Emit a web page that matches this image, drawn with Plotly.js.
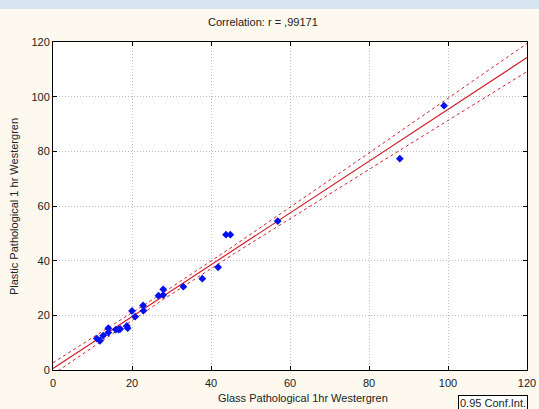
<!DOCTYPE html>
<html><head><meta charset="utf-8">
<script src="https://cdn.plot.ly/plotly-3.0.1.min.js"></script>
<style>html,body{margin:0;padding:0;background:#fdf9ef;}#c{width:539px;height:409px;}</style>
</head><body><div id="c"></div>
<script>
var glass   = [11.1, 11.9, 12.7, 14.0, 14.0, 15.9, 16.6, 17.0, 18.7, 18.9, 20.0, 20.8, 22.8, 22.9, 26.7, 27.9, 27.9, 33.0, 37.8, 41.8, 43.8, 44.9, 56.9, 87.8, 99.0];
var plastic = [11.5, 10.7, 12.6, 15.3, 13.7, 14.8, 14.8, 15.0, 16.1, 15.3, 21.6, 19.5, 23.6, 21.7, 27.2, 29.5, 27.4, 30.5, 33.4, 37.6, 49.5, 49.5, 54.5, 77.3, 96.7];
var tickVals = [0, 20, 40, 60, 80, 100, 120];
var titleText = "Correlation: r = ,99171";
var xTitle = "Glass Pathological 1hr Westergren";
var yTitle = "Plastic Pathological 1 hr Westergren";
var legendText = "0.95 Conf.Int.";

// regression + 95% confidence band computed from the data
var n = glass.length;
var mx = glass.reduce((a,b)=>a+b,0)/n, my = plastic.reduce((a,b)=>a+b,0)/n;
var sxx=0, sxy=0;
for (var i=0;i<n;i++){ sxx += (glass[i]-mx)*(glass[i]-mx); sxy += (glass[i]-mx)*(plastic[i]-my); }
var b = sxy/sxx, a = my - b*mx;
var sse=0; for (var i=0;i<n;i++){ var r = plastic[i]-(a+b*glass[i]); sse += r*r; }
var s = Math.sqrt(sse/(n-2)), t = 2.069;
var lx=[], ly=[], lo=[], hi=[];
for (var k=0;k<=120;k+=1){ var yh=a+b*k; var se=s*Math.sqrt(1/n+(k-mx)*(k-mx)/sxx); lx.push(k); ly.push(yh); lo.push(yh-t*se); hi.push(yh+t*se); }

var red = '#d0202a';
var traces = [
 {x:lx,y:hi,mode:'lines',line:{color:red,width:1,dash:'3px,3px'},hoverinfo:'skip'},
 {x:lx,y:lo,mode:'lines',line:{color:red,width:1,dash:'3px,3px'},hoverinfo:'skip'},
 {x:lx,y:ly,mode:'lines',line:{color:red,width:1.2},hoverinfo:'skip'},
 {x:glass,y:plastic,mode:'markers',marker:{symbol:'diamond',size:6,color:'#0010f0'}}
];
var ax = {range:[0,120],tickvals:tickVals,ticks:'inside',ticklen:4,tickcolor:'#000',mirror:'ticks',showline:true,linecolor:'#000',linewidth:1,
  showgrid:true,gridcolor:'#bdbdbd',griddash:'1px,2px',gridwidth:1,zeroline:false,tickfont:{family:'Liberation Sans, Arial',size:11,color:'#222'},fixedrange:true};
var layout = {
 width:539,height:409,margin:{l:53,r:12,t:42,b:39},
 paper_bgcolor:'#fdf9ef',plot_bgcolor:'#ffffff',showlegend:false,
 xaxis:Object.assign({},ax,{ticklabelstandoff:3}),
 yaxis:Object.assign({},ax),
 shapes:[{type:'rect',xref:'paper',yref:'paper',x0:-0.2,x1:1.1,y0:(370-9)/328,y1:1.2,fillcolor:'#d8e3f1',line:{width:0},layer:'below'}],
 annotations:[
  {text:titleText,xref:'paper',yref:'paper',x:(263-53)/475,y:(370-22)/328,showarrow:false,xanchor:'center',yanchor:'middle',font:{family:'Liberation Sans, Arial',size:11,color:'#222'}},
  {text:xTitle,xref:'paper',yref:'paper',x:(304-53)/475,y:(370-398)/328,showarrow:false,xanchor:'center',yanchor:'middle',font:{family:'Liberation Sans, Arial',size:11,color:'#222'}},
  {text:yTitle,xref:'paper',yref:'paper',x:(14-53)/475,y:(370-207)/328,showarrow:false,textangle:-90,xanchor:'center',yanchor:'middle',font:{family:'Liberation Sans, Arial',size:11,color:'#222'}},
  {text:legendText,xref:'paper',yref:'paper',x:(459-53)/475,y:(370-395)/328,showarrow:false,xanchor:'left',yanchor:'top',bordercolor:'#000',borderwidth:1,borderpad:1,bgcolor:'#ffffff',font:{family:'Liberation Sans, Arial',size:11,color:'#222'}}
 ]
};
Plotly.newPlot('c',traces,layout,{staticPlot:true,displayModeBar:false});
</script></body></html>
